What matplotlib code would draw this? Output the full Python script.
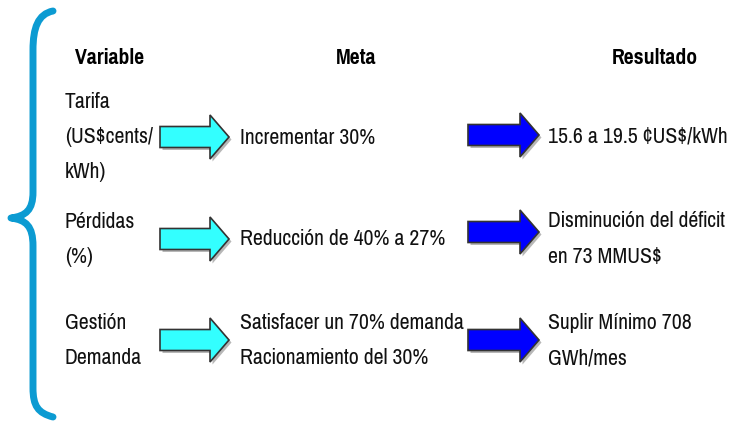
import matplotlib
matplotlib.use('Agg')
import matplotlib.pyplot as plt
from matplotlib.patches import FancyArrow, PathPatch
from matplotlib.path import Path

# --- contenido ---
headers = ['Variable', 'Meta', 'Resultado']
variables = [['Tarifa', '(US$cents/', 'kWh)'], ['Pérdidas', '(%)'], ['Gestión', 'Demanda']]
metas = [['Incrementar 30%'], ['Reducción de 40% a 27%'],
         ['Satisfacer un 70% demanda', 'Racionamiento del 30%']]
resultados = [['15.6 a 19.5 ¢US$/kWh'], ['Disminución del déficit', 'en 73 MMUS$'],
              ['Suplir Mínimo 708', 'GWh/mes']]

# --- layout (pixeles) ---
var_lines_y = [[102, 137, 172], [222, 257], [323, 358]]
meta_lines_y = [[138], [239], [323, 358]]
res_lines_y = [[136], [221, 257], [323, 358]]
cyan_y = [137, 239, 340]
blue_y = [135, 232, 340]

plt.rcParams['font.family'] = ['Pragati Narrow', 'Roboto Condensed',
                               'Liberation Sans', 'DejaVu Sans']

fig = plt.figure(figsize=(7.31, 4.21), dpi=100)
ax = fig.add_axes([0, 0, 1, 1])
ax.set_xlim(0, 731)
ax.set_ylim(421, 0)
ax.axis('off')

# llave
verts = [(53, 11), (38, 14), (33, 28), (33, 50),
         (33, 192),
         (33, 210), (26, 216), (11, 218),
         (26, 220), (33, 226), (33, 246),
         (33, 388),
         (33, 406), (38, 413), (53, 417)]
codes = [Path.MOVETO] + [Path.CURVE4] * 3 + [Path.LINETO] + [Path.CURVE4] * 6 \
    + [Path.LINETO] + [Path.CURVE4] * 3
ax.add_patch(PathPatch(Path(verts, codes), fill=False, edgecolor='#0c9bd2',
                       lw=5, capstyle='round', joinstyle='round'))

fs = 17
hx = [110, 356, 655]
for x, h in zip(hx, headers):
    ax.text(x, 58, h, ha='center', va='center', fontsize=fs, fontweight='bold',
            color='black')


def arrow(x0, x1, y, color):
    for dx, fc, ec in [(2.5, '#888888', 'none'), (0, color, '#333333')]:
        ax.add_patch(FancyArrow(x0 + dx, y + dx, x1 - x0, 0, width=21,
                                head_width=44, head_length=19,
                                length_includes_head=True, fc=fc, ec=ec,
                                lw=1.2, alpha=0.6 if dx else 1))


def lines(x, ys, txts):
    for y, t in zip(ys, txts):
        ax.text(x, y, t, ha='left', va='center', fontsize=fs, color='#111111')


for i in range(3):
    lines(65, var_lines_y[i], variables[i])
    arrow(160, 229, cyan_y[i], '#33ffff')
    lines(240, meta_lines_y[i], metas[i])
    arrow(468, 539, blue_y[i], '#0000ff')
    lines(548, res_lines_y[i], resultados[i])

fig.savefig('out.png', dpi=100)
